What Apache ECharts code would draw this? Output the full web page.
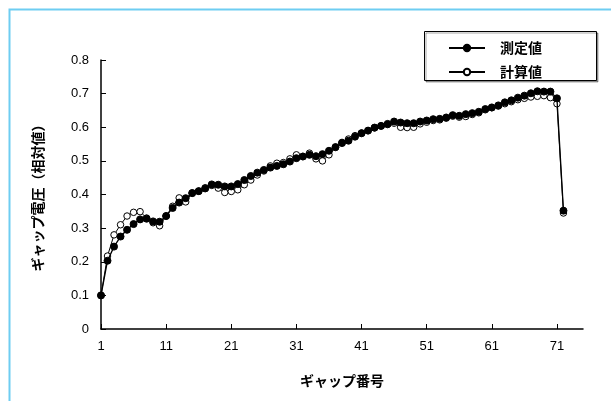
<!DOCTYPE html>
<html>
<head>
<meta charset="utf-8">
<script src="https://cdn.jsdelivr.net/npm/echarts@6/dist/echarts.min.js"></script>
<style>
html,body{margin:0;padding:0;background:#fff;}
#c{width:611px;height:401px;}
</style>
</head>
<body>
<div id="c"></div>
<script>
// Categories: gap numbers 1..75 (axis spans 75 positions)
const categories = [];
for (let i = 1; i <= 75; i++) categories.push(String(i));

const seriesNames = ['測定値', '計算値'];

const measured = [
  0.10, 0.203, 0.245, 0.275, 0.295, 0.312, 0.326, 0.328, 0.320, 0.319,
  0.336, 0.360, 0.376, 0.389, 0.404, 0.410, 0.418, 0.430, 0.429, 0.424,
  0.424, 0.431, 0.443, 0.455, 0.465, 0.473, 0.480, 0.485, 0.490, 0.498,
  0.508, 0.513, 0.518, 0.514, 0.520, 0.530, 0.541, 0.553, 0.560, 0.572,
  0.582, 0.590, 0.599, 0.604, 0.610, 0.617, 0.614, 0.612, 0.612, 0.617,
  0.620, 0.624, 0.625, 0.629, 0.636, 0.634, 0.639, 0.642, 0.646, 0.654,
  0.659, 0.665, 0.674, 0.680, 0.688, 0.694, 0.701, 0.707, 0.706, 0.706,
  0.686, 0.352
];

const calculated = [
  0.10, 0.217, 0.280, 0.310, 0.336, 0.347, 0.349, 0.330, 0.316, 0.307,
  0.336, 0.365, 0.390, 0.378, 0.405, 0.410, 0.420, 0.427, 0.419, 0.406,
  0.409, 0.414, 0.429, 0.443, 0.458, 0.470, 0.485, 0.493, 0.495, 0.506,
  0.518, 0.513, 0.523, 0.506, 0.500, 0.518, 0.540, 0.555, 0.565, 0.575,
  0.583, 0.590, 0.598, 0.604, 0.608, 0.612, 0.600, 0.599, 0.600, 0.610,
  0.615, 0.620, 0.622, 0.627, 0.633, 0.630, 0.632, 0.638, 0.643, 0.652,
  0.658, 0.663, 0.670, 0.676, 0.682, 0.686, 0.690, 0.692, 0.694, 0.688,
  0.670, 0.345
];

const chart = echarts.init(document.getElementById('c'), null, {renderer: 'canvas'});
const latin = '"Liberation Sans", Arial, sans-serif';
const cjk = '"Noto Sans CJK JP", sans-serif';

chart.setOption({
  animation: false,
  backgroundColor: '#fff',
  graphic: [
    {
      type: 'rect',
      shape: {x: 9.5, y: 9.5, width: 700, height: 500},
      style: {fill: null, stroke: '#6ecdf2', lineWidth: 2},
      z: 0
    },
    {
      type: 'rect',
      shape: {x: 424.5, y: 31.5, width: 172, height: 49},
      style: {fill: '#fff', stroke: '#000', lineWidth: 1,
        shadowColor: 'rgba(0,0,0,0.35)', shadowOffsetX: 1.5, shadowOffsetY: 1.5, shadowBlur: 0},
      z: 1
    }
  ],
  legend: {
    data: seriesNames,
    orient: 'vertical',
    left: 443,
    top: 36,
    itemWidth: 36,
    itemHeight: 8,
    itemGap: 10,
    textStyle: {fontFamily: cjk, fontWeight: 'bold', fontSize: 14, color: '#000', padding: [0, 0, 0, 10]},
    z: 5
  },
  grid: {left: 101, top: 60, width: 482, height: 269, containLabel: false},
  xAxis: {
    type: 'category',
    data: categories,
    boundaryGap: false,
    name: 'ギャップ番号',
    nameLocation: 'middle',
    nameGap: 45,
    nameTextStyle: {fontFamily: cjk, fontWeight: 'bold', fontSize: 14, color: '#000'},
    axisLine: {lineStyle: {color: '#000', width: 1.5}},
    axisTick: {inside: true, interval: 9, length: 5, lineStyle: {color: '#000'}},
    axisLabel: {interval: 9, margin: 11, fontFamily: latin, fontSize: 13, color: '#000'},
    splitLine: {show: false}
  },
  yAxis: {
    type: 'value',
    min: 0,
    max: 0.8,
    interval: 0.1,
    name: 'ギャップ電圧（相対値）',
    nameLocation: 'middle',
    nameGap: 56,
    nameTextStyle: {fontFamily: cjk, fontWeight: 'bold', fontSize: 14, color: '#000'},
    axisLine: {show: true, lineStyle: {color: '#000', width: 1.5}},
    axisTick: {show: true, inside: true, length: 5, lineStyle: {color: '#000'}},
    axisLabel: {margin: 12, fontFamily: latin, fontSize: 13, color: '#000'},
    splitLine: {show: false}
  },
  series: [
    {
      name: seriesNames[0],
      type: 'line',
      data: measured,
      symbol: 'circle',
      symbolSize: 7,
      showSymbol: true,
      showAllSymbol: true,
      lineStyle: {color: '#000', width: 1.3},
      itemStyle: {color: '#000', borderColor: '#000', borderWidth: 1},
      z: 4
    },
    {
      name: seriesNames[1],
      type: 'line',
      data: calculated,
      symbol: 'circle',
      symbolSize: 6.5,
      showSymbol: true,
      showAllSymbol: true,
      lineStyle: {color: '#000', width: 1},
      itemStyle: {color: '#fff', borderColor: '#000', borderWidth: 1},
      z: 3
    }
  ]
});
</script>
</body>
</html>
